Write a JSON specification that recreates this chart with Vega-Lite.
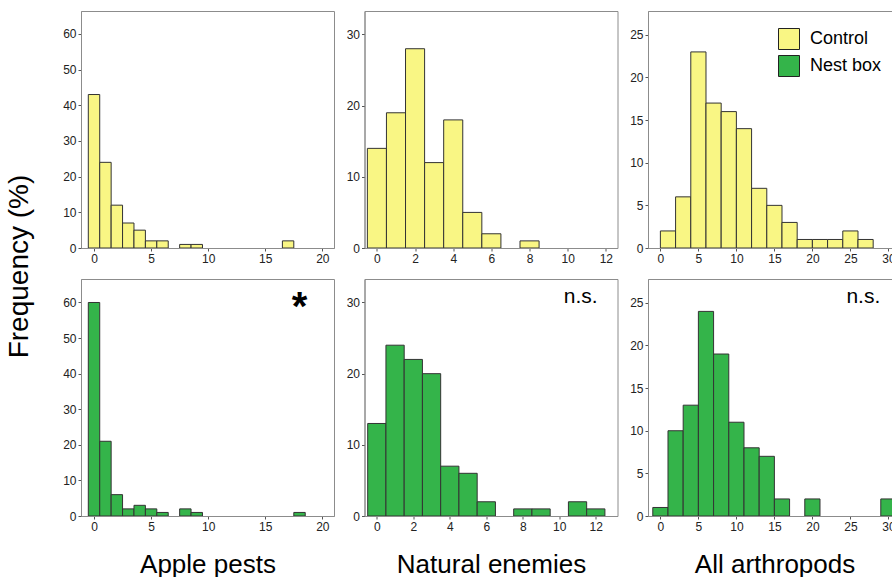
{
  "$schema": "https://vega.github.io/schema/vega-lite/v6.json",
  "background": "white",
  "padding": {"left": 4, "top": 10, "right": -10, "bottom": -1},
  "bounds": "flush",
  "columns": 3,
  "spacing": {"row": 31, "column": 30.5},
  "resolve": {
    "scale": {"x": "independent", "y": "independent", "fill": "independent"},
    "legend": {"fill": "independent"}
  },
  "config": {
    "font": "Liberation Sans",
    "view": {"stroke": "#8c8c8c", "strokeWidth": 1},
    "axis": {
      "grid": false,
      "domainColor": "#8c8c8c",
      "tickColor": "#555555",
      "tickSize": 3,
      "labelFontSize": 12,
      "labelColor": "#222222",
      "labelPadding": 2,
      "labelOverlap": false,
      "titleFontWeight": "normal",
      "titleColor": "#000000",
      "titleFontSize": 26
    }
  },
  "datasets": {
    "bars": [
      {"taxon": "Apple pests", "treatment": "Control", "bin_start": -0.5, "bin_end": 0.5, "frequency": 43},
      {"taxon": "Apple pests", "treatment": "Control", "bin_start": 0.5, "bin_end": 1.5, "frequency": 24},
      {"taxon": "Apple pests", "treatment": "Control", "bin_start": 1.5, "bin_end": 2.5, "frequency": 12},
      {"taxon": "Apple pests", "treatment": "Control", "bin_start": 2.5, "bin_end": 3.5, "frequency": 7},
      {"taxon": "Apple pests", "treatment": "Control", "bin_start": 3.5, "bin_end": 4.5, "frequency": 5},
      {"taxon": "Apple pests", "treatment": "Control", "bin_start": 4.5, "bin_end": 5.5, "frequency": 2},
      {"taxon": "Apple pests", "treatment": "Control", "bin_start": 5.5, "bin_end": 6.5, "frequency": 2},
      {"taxon": "Apple pests", "treatment": "Control", "bin_start": 7.5, "bin_end": 8.5, "frequency": 1},
      {"taxon": "Apple pests", "treatment": "Control", "bin_start": 8.5, "bin_end": 9.5, "frequency": 1},
      {"taxon": "Apple pests", "treatment": "Control", "bin_start": 16.5, "bin_end": 17.5, "frequency": 2},
      {"taxon": "Apple pests", "treatment": "Nest box", "bin_start": -0.5, "bin_end": 0.5, "frequency": 60},
      {"taxon": "Apple pests", "treatment": "Nest box", "bin_start": 0.5, "bin_end": 1.5, "frequency": 21},
      {"taxon": "Apple pests", "treatment": "Nest box", "bin_start": 1.5, "bin_end": 2.5, "frequency": 6},
      {"taxon": "Apple pests", "treatment": "Nest box", "bin_start": 2.5, "bin_end": 3.5, "frequency": 2},
      {"taxon": "Apple pests", "treatment": "Nest box", "bin_start": 3.5, "bin_end": 4.5, "frequency": 3},
      {"taxon": "Apple pests", "treatment": "Nest box", "bin_start": 4.5, "bin_end": 5.5, "frequency": 2},
      {"taxon": "Apple pests", "treatment": "Nest box", "bin_start": 5.5, "bin_end": 6.5, "frequency": 1},
      {"taxon": "Apple pests", "treatment": "Nest box", "bin_start": 7.5, "bin_end": 8.5, "frequency": 2},
      {"taxon": "Apple pests", "treatment": "Nest box", "bin_start": 8.5, "bin_end": 9.5, "frequency": 1},
      {"taxon": "Apple pests", "treatment": "Nest box", "bin_start": 17.5, "bin_end": 18.5, "frequency": 1},
      {"taxon": "Natural enemies", "treatment": "Control", "bin_start": -0.5, "bin_end": 0.5, "frequency": 14},
      {"taxon": "Natural enemies", "treatment": "Control", "bin_start": 0.5, "bin_end": 1.5, "frequency": 19},
      {"taxon": "Natural enemies", "treatment": "Control", "bin_start": 1.5, "bin_end": 2.5, "frequency": 28},
      {"taxon": "Natural enemies", "treatment": "Control", "bin_start": 2.5, "bin_end": 3.5, "frequency": 12},
      {"taxon": "Natural enemies", "treatment": "Control", "bin_start": 3.5, "bin_end": 4.5, "frequency": 18},
      {"taxon": "Natural enemies", "treatment": "Control", "bin_start": 4.5, "bin_end": 5.5, "frequency": 5},
      {"taxon": "Natural enemies", "treatment": "Control", "bin_start": 5.5, "bin_end": 6.5, "frequency": 2},
      {"taxon": "Natural enemies", "treatment": "Control", "bin_start": 7.5, "bin_end": 8.5, "frequency": 1},
      {"taxon": "Natural enemies", "treatment": "Nest box", "bin_start": -0.5, "bin_end": 0.5, "frequency": 13},
      {"taxon": "Natural enemies", "treatment": "Nest box", "bin_start": 0.5, "bin_end": 1.5, "frequency": 24},
      {"taxon": "Natural enemies", "treatment": "Nest box", "bin_start": 1.5, "bin_end": 2.5, "frequency": 22},
      {"taxon": "Natural enemies", "treatment": "Nest box", "bin_start": 2.5, "bin_end": 3.5, "frequency": 20},
      {"taxon": "Natural enemies", "treatment": "Nest box", "bin_start": 3.5, "bin_end": 4.5, "frequency": 7},
      {"taxon": "Natural enemies", "treatment": "Nest box", "bin_start": 4.5, "bin_end": 5.5, "frequency": 6},
      {"taxon": "Natural enemies", "treatment": "Nest box", "bin_start": 5.5, "bin_end": 6.5, "frequency": 2},
      {"taxon": "Natural enemies", "treatment": "Nest box", "bin_start": 7.5, "bin_end": 8.5, "frequency": 1},
      {"taxon": "Natural enemies", "treatment": "Nest box", "bin_start": 8.5, "bin_end": 9.5, "frequency": 1},
      {"taxon": "Natural enemies", "treatment": "Nest box", "bin_start": 10.5, "bin_end": 11.5, "frequency": 2},
      {"taxon": "Natural enemies", "treatment": "Nest box", "bin_start": 11.5, "bin_end": 12.5, "frequency": 1},
      {"taxon": "All arthropods", "treatment": "Control", "bin_start": 0, "bin_end": 2, "frequency": 2},
      {"taxon": "All arthropods", "treatment": "Control", "bin_start": 2, "bin_end": 4, "frequency": 6},
      {"taxon": "All arthropods", "treatment": "Control", "bin_start": 4, "bin_end": 6, "frequency": 23},
      {"taxon": "All arthropods", "treatment": "Control", "bin_start": 6, "bin_end": 8, "frequency": 17},
      {"taxon": "All arthropods", "treatment": "Control", "bin_start": 8, "bin_end": 10, "frequency": 16},
      {"taxon": "All arthropods", "treatment": "Control", "bin_start": 10, "bin_end": 12, "frequency": 14},
      {"taxon": "All arthropods", "treatment": "Control", "bin_start": 12, "bin_end": 14, "frequency": 7},
      {"taxon": "All arthropods", "treatment": "Control", "bin_start": 14, "bin_end": 16, "frequency": 5},
      {"taxon": "All arthropods", "treatment": "Control", "bin_start": 16, "bin_end": 18, "frequency": 3},
      {"taxon": "All arthropods", "treatment": "Control", "bin_start": 18, "bin_end": 20, "frequency": 1},
      {"taxon": "All arthropods", "treatment": "Control", "bin_start": 20, "bin_end": 22, "frequency": 1},
      {"taxon": "All arthropods", "treatment": "Control", "bin_start": 22, "bin_end": 24, "frequency": 1},
      {"taxon": "All arthropods", "treatment": "Control", "bin_start": 24, "bin_end": 26, "frequency": 2},
      {"taxon": "All arthropods", "treatment": "Control", "bin_start": 26, "bin_end": 28, "frequency": 1},
      {"taxon": "All arthropods", "treatment": "Nest box", "bin_start": -1, "bin_end": 1, "frequency": 1},
      {"taxon": "All arthropods", "treatment": "Nest box", "bin_start": 1, "bin_end": 3, "frequency": 10},
      {"taxon": "All arthropods", "treatment": "Nest box", "bin_start": 3, "bin_end": 5, "frequency": 13},
      {"taxon": "All arthropods", "treatment": "Nest box", "bin_start": 5, "bin_end": 7, "frequency": 24},
      {"taxon": "All arthropods", "treatment": "Nest box", "bin_start": 7, "bin_end": 9, "frequency": 19},
      {"taxon": "All arthropods", "treatment": "Nest box", "bin_start": 9, "bin_end": 11, "frequency": 11},
      {"taxon": "All arthropods", "treatment": "Nest box", "bin_start": 11, "bin_end": 13, "frequency": 8},
      {"taxon": "All arthropods", "treatment": "Nest box", "bin_start": 13, "bin_end": 15, "frequency": 7},
      {"taxon": "All arthropods", "treatment": "Nest box", "bin_start": 15, "bin_end": 17, "frequency": 2},
      {"taxon": "All arthropods", "treatment": "Nest box", "bin_start": 19, "bin_end": 21, "frequency": 2},
      {"taxon": "All arthropods", "treatment": "Nest box", "bin_start": 29, "bin_end": 31, "frequency": 2}
    ],
    "notes": [
      {"taxon": "Apple pests", "x": 18, "y": 55.2, "label": "*"},
      {"taxon": "Natural enemies", "x": 11.17, "y": 29.9, "label": "n.s."},
      {"taxon": "All arthropods", "x": 26.7, "y": 24.95, "label": "n.s."}
    ]
  },
  "concat": [
    {
      "width": 253, "height": 237,
      "data": {"name": "bars"},
      "transform": [{"filter": "datum.taxon === 'Apple pests' && datum.treatment === 'Control'"}],
      "mark": {"type": "bar", "stroke": "#333333", "strokeWidth": 1, "clip": true},
      "encoding": {
        "x": {"field": "bin_start", "type": "quantitative", "scale": {"domain": [-1.14, 21.02], "nice": false, "zero": false}, "axis": {"values": [0, 5, 10, 15, 20], "title": null}},
        "x2": {"field": "bin_end"},
        "y": {"field": "frequency", "type": "quantitative", "scale": {"domain": [0, 66.4], "nice": false}, "axis": {"values": [0, 10, 20, 30, 40, 50, 60], "title": "Frequency (%)", "titleFontSize": 28, "titleX": -54, "titleY": 255, "titleAngle": -90, "titleAlign": "center", "titleBaseline": "alphabetic"}},
        "y2": {"datum": 0},
        "fill": {"field": "treatment", "type": "nominal", "scale": {"domain": ["Control", "Nest box"], "range": ["#f9f684", "#34b44a"]}, "legend": null}
      }
    },
    {
      "width": 253, "height": 237,
      "data": {"name": "bars"},
      "transform": [{"filter": "datum.taxon === 'Natural enemies' && datum.treatment === 'Control'"}],
      "mark": {"type": "bar", "stroke": "#333333", "strokeWidth": 1, "clip": true},
      "encoding": {
        "x": {"field": "bin_start", "type": "quantitative", "scale": {"domain": [-0.65, 12.61], "nice": false, "zero": false}, "axis": {"values": [0, 2, 4, 6, 8, 10, 12], "title": null}},
        "x2": {"field": "bin_end"},
        "y": {"field": "frequency", "type": "quantitative", "scale": {"domain": [0, 33.3], "nice": false}, "axis": {"values": [0, 10, 20, 30], "title": null}},
        "y2": {"datum": 0},
        "fill": {"field": "treatment", "type": "nominal", "scale": {"domain": ["Control", "Nest box"], "range": ["#f9f684", "#34b44a"]}, "legend": null}
      }
    },
    {
      "width": 253, "height": 237,
      "data": {"name": "bars"},
      "transform": [{"filter": "datum.taxon === 'All arthropods' && datum.treatment === 'Control'"}],
      "mark": {"type": "bar", "stroke": "#333333", "strokeWidth": 1, "clip": true},
      "encoding": {
        "x": {"field": "bin_start", "type": "quantitative", "scale": {"domain": [-1.63, 31.66], "nice": false, "zero": false}, "axis": {"values": [0, 5, 10, 15, 20, 25, 30], "title": null}},
        "x2": {"field": "bin_end"},
        "y": {"field": "frequency", "type": "quantitative", "scale": {"domain": [0, 27.8], "nice": false}, "axis": {"values": [0, 5, 10, 15, 20, 25], "title": null}},
        "y2": {"datum": 0},
        "fill": {"field": "treatment", "type": "nominal", "scale": {"domain": ["Control", "Nest box"], "range": ["#f9f684", "#34b44a"]}, "legend": {"orient": "none", "legendX": 130, "legendY": 17, "title": null, "padding": 0, "symbolType": "square", "symbolSize": 441, "symbolStrokeColor": "#222222", "symbolStrokeWidth": 1, "symbolOpacity": 1, "labelFontSize": 18, "labelColor": "#000000", "labelOffset": 10, "rowPadding": 1}}
      }
    },
    {
      "width": 253, "height": 237,
      "layer": [
        {
          "data": {"name": "bars"},
          "transform": [{"filter": "datum.taxon === 'Apple pests' && datum.treatment === 'Nest box'"}],
          "mark": {"type": "bar", "stroke": "#333333", "strokeWidth": 1, "clip": true},
          "encoding": {
            "x": {"field": "bin_start", "type": "quantitative", "scale": {"domain": [-1.14, 21.02], "nice": false, "zero": false}, "axis": {"values": [0, 5, 10, 15, 20], "title": "Apple pests", "titleY": 56, "titleBaseline": "alphabetic"}},
            "x2": {"field": "bin_end"},
            "y": {"field": "frequency", "type": "quantitative", "scale": {"domain": [0, 66.6], "nice": false}, "axis": {"values": [0, 10, 20, 30, 40, 50, 60], "title": null}},
            "y2": {"datum": 0},
            "fill": {"field": "treatment", "type": "nominal", "scale": {"domain": ["Control", "Nest box"], "range": ["#f9f684", "#34b44a"]}, "legend": null}
          }
        },
        {
          "data": {"name": "notes"},
          "transform": [{"filter": "datum.taxon === 'Apple pests'"}],
          "mark": {"type": "text", "fontSize": 40, "fontWeight": "bold", "align": "center", "baseline": "alphabetic", "color": "#000000"},
          "encoding": {
            "x": {"field": "x", "type": "quantitative", "axis": {"values": [0, 5, 10, 15, 20], "title": "Apple pests", "titleY": 56, "titleBaseline": "alphabetic"}},
            "y": {"field": "y", "type": "quantitative", "axis": {"values": [0, 10, 20, 30, 40, 50, 60], "title": null}},
            "text": {"field": "label"}
          }
        }
      ]
    },
    {
      "width": 253, "height": 237,
      "layer": [
        {
          "data": {"name": "bars"},
          "transform": [{"filter": "datum.taxon === 'Natural enemies' && datum.treatment === 'Nest box'"}],
          "mark": {"type": "bar", "stroke": "#333333", "strokeWidth": 1, "clip": true},
          "encoding": {
            "x": {"field": "bin_start", "type": "quantitative", "scale": {"domain": [-0.675, 13.19], "nice": false, "zero": false}, "axis": {"values": [0, 2, 4, 6, 8, 10, 12], "title": "Natural enemies", "titleY": 56, "titleBaseline": "alphabetic"}},
            "x2": {"field": "bin_end"},
            "y": {"field": "frequency", "type": "quantitative", "scale": {"domain": [0, 33.3], "nice": false}, "axis": {"values": [0, 10, 20, 30], "title": null}},
            "y2": {"datum": 0},
            "fill": {"field": "treatment", "type": "nominal", "scale": {"domain": ["Control", "Nest box"], "range": ["#f9f684", "#34b44a"]}, "legend": null}
          }
        },
        {
          "data": {"name": "notes"},
          "transform": [{"filter": "datum.taxon === 'Natural enemies'"}],
          "mark": {"type": "text", "fontSize": 21, "align": "center", "baseline": "alphabetic", "color": "#000000"},
          "encoding": {
            "x": {"field": "x", "type": "quantitative", "axis": {"values": [0, 2, 4, 6, 8, 10, 12], "title": "Natural enemies", "titleY": 56, "titleBaseline": "alphabetic"}},
            "y": {"field": "y", "type": "quantitative", "axis": {"values": [0, 10, 20, 30], "title": null}},
            "text": {"field": "label"}
          }
        }
      ]
    },
    {
      "width": 253, "height": 237,
      "layer": [
        {
          "data": {"name": "bars"},
          "transform": [{"filter": "datum.taxon === 'All arthropods' && datum.treatment === 'Nest box'"}],
          "mark": {"type": "bar", "stroke": "#333333", "strokeWidth": 1, "clip": true},
          "encoding": {
            "x": {"field": "bin_start", "type": "quantitative", "scale": {"domain": [-1.63, 31.66], "nice": false, "zero": false}, "axis": {"values": [0, 5, 10, 15, 20, 25, 30], "title": "All arthropods", "titleY": 56, "titleBaseline": "alphabetic"}},
            "x2": {"field": "bin_end"},
            "y": {"field": "frequency", "type": "quantitative", "scale": {"domain": [0, 27.8], "nice": false}, "axis": {"values": [0, 5, 10, 15, 20, 25], "title": null}},
            "y2": {"datum": 0},
            "fill": {"field": "treatment", "type": "nominal", "scale": {"domain": ["Control", "Nest box"], "range": ["#f9f684", "#34b44a"]}, "legend": null}
          }
        },
        {
          "data": {"name": "notes"},
          "transform": [{"filter": "datum.taxon === 'All arthropods'"}],
          "mark": {"type": "text", "fontSize": 21, "align": "center", "baseline": "alphabetic", "color": "#000000"},
          "encoding": {
            "x": {"field": "x", "type": "quantitative", "axis": {"values": [0, 5, 10, 15, 20, 25, 30], "title": "All arthropods", "titleY": 56, "titleBaseline": "alphabetic"}},
            "y": {"field": "y", "type": "quantitative", "axis": {"values": [0, 5, 10, 15, 20, 25], "title": null}},
            "text": {"field": "label"}
          }
        }
      ]
    }
  ]
}
